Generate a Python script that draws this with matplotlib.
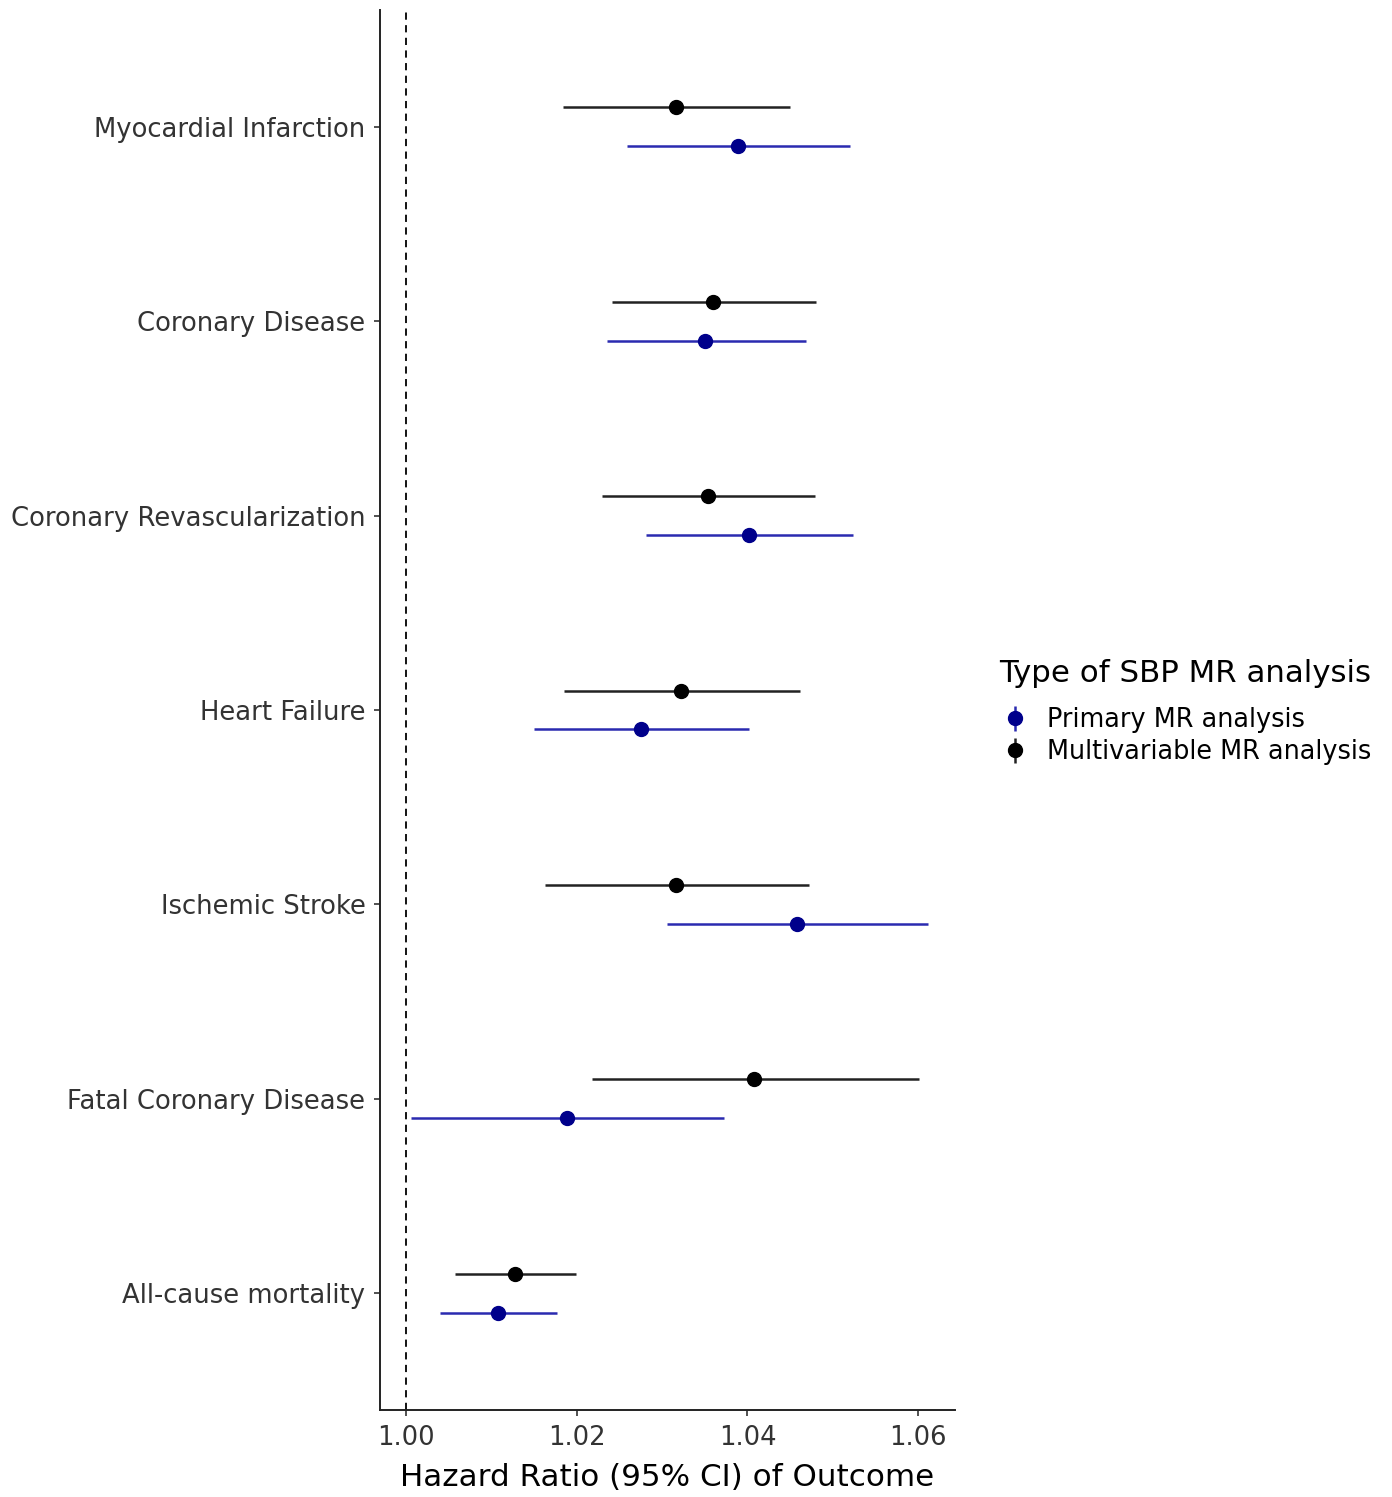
import matplotlib
matplotlib.use("Agg")
import matplotlib.pyplot as plt
import numpy as np
from matplotlib.lines import Line2D
from matplotlib.legend_handler import HandlerTuple

# outcomes, top to bottom
outcomes = ["Myocardial Infarction", "Coronary Disease", "Coronary Revascularization",
            "Heart Failure", "Ischemic Stroke", "Fatal Coronary Disease", "All-cause mortality"]

# primary MR analysis (blue)
prim_hr = [1.0389, 1.0350, 1.0402, 1.0275, 1.0458, 1.0188, 1.0108]
prim_lo = [1.0259, 1.0236, 1.0281, 1.0150, 1.0306, 1.0006, 1.0040]
prim_hi = [1.0520, 1.0468, 1.0524, 1.0402, 1.0612, 1.0372, 1.0177]

# multivariable MR analysis (black)
multi_hr = [1.0316, 1.0360, 1.0354, 1.0322, 1.0316, 1.0408, 1.0128]
multi_lo = [1.0184, 1.0241, 1.0230, 1.0185, 1.0163, 1.0218, 1.0057]
multi_hi = [1.0450, 1.0480, 1.0479, 1.0462, 1.0472, 1.0601, 1.0199]

blue_pt = "#00008b"
blue_ln = "#2a2ab0"

fig = plt.figure(figsize=(13.92, 14.97), dpi=100)
ax = fig.add_axes([0.273, 0.0581, 0.413, 0.9352])

n = len(outcomes)
ypos = np.arange(n)[::-1].astype(float)
off = 0.1

ax.axvline(1.0, color="black", linestyle=(0, (4, 3)), linewidth=1.3, zorder=1)

ax.hlines(ypos + off, multi_lo, multi_hi, color="#222222", linewidth=1.8, zorder=2)
ax.plot(multi_hr, ypos + off, "o", color="black", markersize=10, zorder=3)
ax.hlines(ypos - off, prim_lo, prim_hi, color=blue_ln, linewidth=1.8, zorder=2)
ax.plot(prim_hr, ypos - off, "o", color=blue_pt, markersize=10, zorder=3)

ax.set_yticks(ypos)
ax.set_yticklabels(outcomes)
ax.set_ylim(-0.6, n - 1 + 0.6)
ax.set_xlim(0.99695, 1.0643)
ax.set_xticks([1.00, 1.02, 1.04, 1.06])
ax.set_xticklabels(["1.00", "1.02", "1.04", "1.06"])
ax.tick_params(axis="both", labelsize=18.6, labelcolor="#333333", length=4.5, width=1.2,
               color="#333333", pad=6)
ax.set_xlabel("Hazard Ratio (95% CI) of Outcome", fontsize=22.3, labelpad=9)

for s in ["top", "right"]:
    ax.spines[s].set_visible(False)
for s in ["left", "bottom"]:
    ax.spines[s].set_linewidth(1.4)
    ax.spines[s].set_color("#222222")

# legend title as separate text, keys below it
fig.text(0.7177, 0.5504, "Type of SBP MR analysis", fontsize=22.2, ha="left", va="center")

# legend keys like pointrange: dot with short vertical bar
h_prim = (Line2D([], [], marker="|", color=blue_ln, markersize=18, markeredgewidth=1.8, linestyle="none"),
          Line2D([], [], marker="o", color=blue_pt, markersize=10, linestyle="none"))
h_multi = (Line2D([], [], marker="|", color="#222222", markersize=18, markeredgewidth=1.8, linestyle="none"),
           Line2D([], [], marker="o", color="black", markersize=10, linestyle="none"))
leg = fig.legend([h_prim, h_multi], ["Primary MR analysis", "Multivariable MR analysis"],
                 handler_map={tuple: HandlerTuple(ndivide=1, pad=0)},
                 fontsize=18.4, loc="center left", bbox_to_anchor=(0.7200, 0.5083),
                 frameon=False, borderpad=0, borderaxespad=0,
                 handlelength=1.0, handletextpad=0.76, labelspacing=0.25)

fig.savefig("out.png", dpi=100)
